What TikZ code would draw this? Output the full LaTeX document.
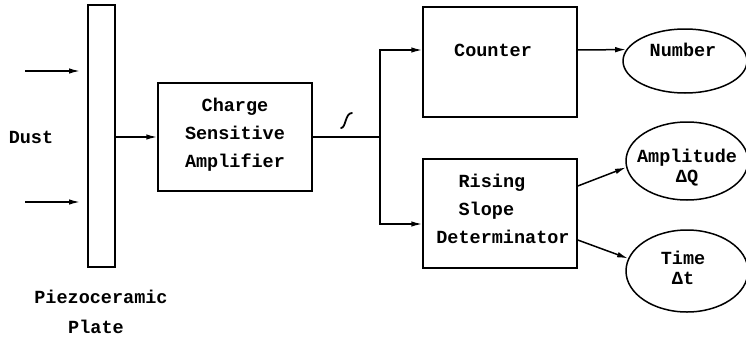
\documentclass[tikz,border=0pt]{standalone}
\usepackage{fontspec}
\setmonofont{Liberation Mono}
\usetikzlibrary{arrows.meta,shapes.geometric}
\tikzset{
  every picture/.style={line width=1.5pt},
  box/.style={draw, rectangle, inner sep=0pt},
  oval/.style={draw, ellipse, inner sep=0pt},
  lbl/.style={font=\ttfamily\bfseries\fontsize{18.5}{28}\selectfont, inner sep=0pt, align=center},
  olbl/.style={font=\ttfamily\bfseries\fontsize{18.5}{19.5}\selectfont, inner sep=0pt, align=center},
  arr/.style={-{Latex[length=11pt,width=5.5pt]}},
}
\begin{document}
\begin{tikzpicture}[x=1pt,y=-1pt]
\useasboundingbox (0,0) rectangle (746,340);

% blocks
\node[box, minimum width=27pt, minimum height=262pt] (plate) at (101.5,136) {};
\node[box, minimum width=154pt, minimum height=108pt] (amp) at (235,137) {};
\node[box, minimum width=154pt, minimum height=110pt] (counter) at (500,62) {};
\node[box, minimum width=154pt, minimum height=109pt] (rsd) at (500,213.5) {};

% result ovals
\node[oval, minimum width=124pt, minimum height=64pt] (number) at (685,61) {};
\node[oval, minimum width=122pt, minimum height=78pt] (ampl) at (687,161) {};
\node[oval, minimum width=122pt, minimum height=82pt] (time) at (687,271) {};

% texts
\node[lbl] (amptext) at (235,135) {Charge\\Sensitive\\Amplifier};
\node[lbl] (cnttext) at (493,50) {Counter};
\node[lbl, align=left] (rsdtext) at (503,209) {\phantom{xx}Rising\\\phantom{xx}Slope\\Determinator};
\node[lbl] (numtext) at (683,50) {Number};
\node[olbl] (ampltext) at (687,167.5) {Amplitude\\ΔQ};
\node[olbl] (timetext) at (683,268) {Time\\Δt};
\node[lbl] (dust) at (31,137) {Dust};
\node[lbl] (piezo) at (101,297) {Piezoceramic};
\node[lbl] (platetext) at (96,327) {Plate};

% incoming dust
\coordinate (d1s) at (25,71);
\coordinate (d1e) at (80,71);
\coordinate (d2s) at (25,202);
\coordinate (d2e) at (80,202);
\draw[arr] (d1s) -- (d1e);
\draw[arr] (d2s) -- (d2e);

% signal path
\draw[arr] (plate.east |- amp.west) -- (amp.west);
\coordinate (split) at (380,137);
\draw (amp.east) -- (split);
\draw[arr] (split) |- (counter.west |- 0,50);
\draw[arr] (split) |- ([yshift=-10.5pt]rsd.west);
\draw[arr] (counter.east |- 0,50) -- (number.169);
\draw[arr] ([yshift=27.5pt]rsd.east) -- (ampl.186);
\draw[arr] ([yshift=-26.5pt]rsd.east) -- (time.168);

% pulse sketch above the amplifier output
\coordinate (ps) at (341,128);
\coordinate (pe) at (352,113);
\draw[line cap=round, line width=1.8pt] (ps) .. controls (346,128) and (345,113) .. (pe);
\end{tikzpicture}
\end{document}
